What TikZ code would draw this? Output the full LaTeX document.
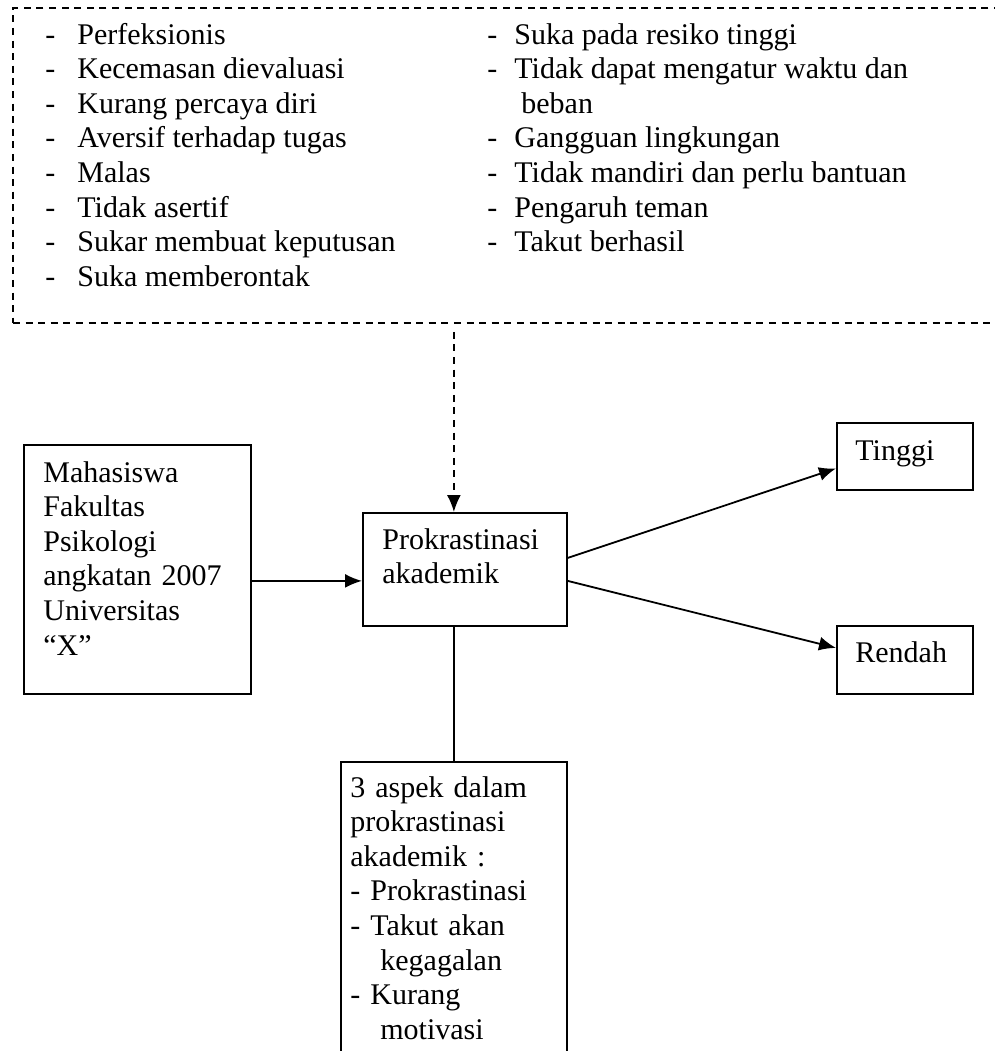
\documentclass[tikz,border=0pt]{standalone}
\usepackage{fontspec}
\setmainfont{Liberation Serif}
\usetikzlibrary{arrows.meta}

\tikzset{
  box/.style={draw, line width=0.9pt, inner sep=0pt, anchor=north west},
  txt/.style={inner sep=0pt, anchor=base west},
  conn/.style={line width=0.9pt},
  arr/.style={conn, -{Latex[length=8.5pt,width=7pt]}},
  dasharr/.style={arr, dash pattern=on 3.5pt off 2.8pt, shorten <=4pt}
}

\begin{document}
\begin{tikzpicture}[x=0.5pt, y=-0.5pt, font=\fontsize{15}{17.3}\selectfont]
  \useasboundingbox (0,0) rectangle (995,1051);
  % boxes
  \node[box, dash pattern=on 3.5pt off 2.8pt, minimum width=499pt, minimum height=157.5pt] (faktor) at (12,7) {};
  \node[box, minimum width=113.5pt, minimum height=124.5pt] (mhs) at (23,444) {};
  \node[box, minimum width=102pt, minimum height=56.5pt] (prok) at (362,512) {};
  \node[box, minimum width=113pt, minimum height=155pt] (aspek) at (340,761) {};
  \node[box, minimum width=68pt, minimum height=33.5pt] (tinggi) at (836,422) {};
  \node[box, minimum width=68pt, minimum height=34pt] (rendah) at (836,625) {};
  % faktor-faktor
  \foreach \fak [count=\i] in {Perfeksionis, Kecemasan dievaluasi, Kurang percaya diri, Aversif terhadap tugas, Malas, Tidak asertif, Sukar membuat keputusan, Suka memberontak}
    \node[txt] (fa\i) at (45,{44+34.6*(\i-1)}) {\makebox[16pt][l]{-}\fak};
  \foreach \r/\fak in {1/Suka pada resiko tinggi, 2/Tidak dapat mengatur waktu dan, 4/Gangguan lingkungan, 5/Tidak mandiri dan perlu bantuan, 6/Pengaruh teman, 7/Takut berhasil}
    \node[txt] (fb\r) at (487,{44+34.6*(\r-1)}) {\makebox[13.5pt][l]{-}\fak};
  \node[txt] (fb3) at (521,{44+34.6*2}) {beban};
  % isi kotak
  \node[txt, text width=105pt, align=left] (mhstxt) at (43,482) {Mahasiswa\\Fakultas\\Psikologi\\angkatan 2007\\Universitas\\“X”};
  \node[txt, text width=95pt, align=left] (proktxt) at (382,549) {Prokrastinasi\\akademik};
  \node[txt, text width=105pt, align=left] (aspektxt) at (350,797) {3 aspek dalam\\prokrastinasi\\akademik :\\- Prokrastinasi\\- Takut akan\\\hspace*{15pt}kegagalan\\- Kurang\\\hspace*{15pt}motivasi};
  \node[txt] (tinggitxt) at (855,460) {Tinggi};
  \node[txt] (rendahtxt) at (855,662) {Rendah};
  % panah
  \draw[dasharr] (faktor.south -| aspek.north) -- (prok.north -| aspek.north);
  \draw[arr] ([yshift=-5.75pt]mhs.east) -- ([yshift=-5.75pt]prok.west);
  \draw[arr] ([yshift=5.75pt]prok.east) -- ([yshift=-6pt]tinggi.west);
  \draw[arr] ([yshift=-5.75pt]prok.east) -- ([yshift=6pt]rendah.west);
  \draw[conn] (prok.south -| aspek.north) -- (aspek.north);
\end{tikzpicture}
\end{document}
